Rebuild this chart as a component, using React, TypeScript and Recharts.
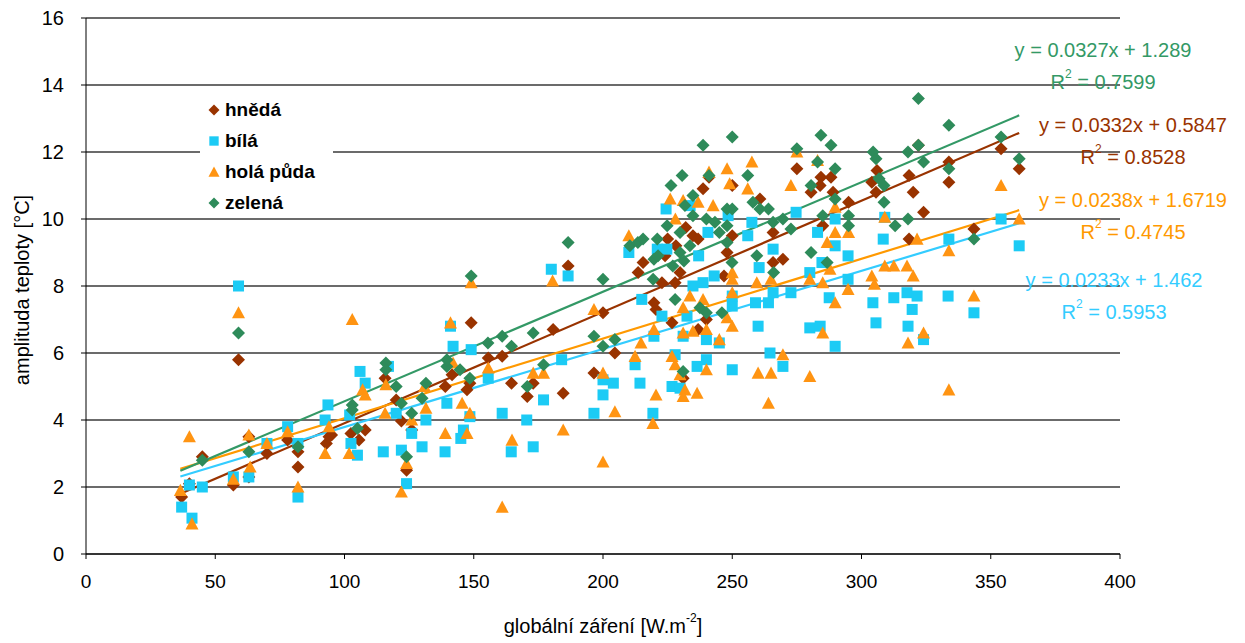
import React from "react";
import {
  ScatterChart,
  Scatter,
  XAxis,
  YAxis,
  CartesianGrid,
  ReferenceLine,
  Legend,
} from "recharts";

// [globální záření, amplituda teploty]
const hneda: [number, number][] = [
  [37, 1.7], [40, 2.1], [45, 2.9], [57, 2.06], [59, 5.8], [63, 3.5], [63, 2.3], [70, 3.0], [78, 3.4], [82, 3.05],
  [82, 2.6], [93, 3.3], [94, 3.5], [95, 3.55], [102.5, 3.6], [105.6, 3.4], [108, 3.7], [115.7, 5.25], [120, 4.6], [122, 3.97],
  [124, 2.5], [126, 3.7], [139, 5.0], [141.6, 5.35], [147.4, 4.9], [148.5, 5.1], [149, 6.9], [155.6, 5.85], [161, 5.9], [164.6, 5.1],
  [170.7, 4.7], [173, 5.1], [180.7, 6.7], [184.6, 4.8], [186.5, 8.6], [196.5, 5.4], [200, 7.2], [204.6, 6.0], [213.6, 8.4], [215.5, 8.7],
  [219.7, 7.5], [220.5, 7.3], [222.8, 8.1], [224, 8.9], [225, 9.4], [226.7, 6.9], [227.9, 8.1], [228.2, 9.2], [229.8, 8.4], [231, 5.25],
  [232, 9.75], [234.8, 9.5], [236.8, 9.4], [236.8, 6.7], [238.7, 10.9], [240, 7.0], [241, 11.25], [246.8, 8.3], [248, 9.0], [250, 9.5],
  [250, 11.0], [260.7, 10.6], [265.8, 9.6], [265.8, 8.7], [269.6, 8.8], [275, 11.5], [280.5, 10.8], [284.3, 11.25], [284, 11.0], [285, 9.8],
  [288.2, 11.25], [289, 10.8], [295, 10.5], [304, 11.1], [306, 11.45], [305.6, 10.8], [318.4, 11.3], [318.4, 9.4], [320, 10.8], [322, 12.2],
  [324, 10.2], [333.8, 11.7], [333.8, 11.1], [343.5, 9.7], [354, 12.1], [361, 11.5],
];

const bila: [number, number][] = [
  [37, 1.4], [40, 2.06], [41, 1.07], [45, 2.0], [57, 2.3], [59, 8.0], [63, 2.3], [70, 3.3], [78, 3.8], [82, 3.3],
  [82, 1.7], [92.5, 4.0], [93.6, 4.45], [102, 4.15], [102.5, 3.3], [105, 2.95], [106, 5.45], [108, 5.1], [115, 3.05], [117, 5.6],
  [120, 4.2], [122, 3.1], [124, 2.1], [126, 3.6], [130, 3.2], [131.5, 4.0], [138.9, 3.05], [139.6, 4.5], [141, 6.8], [142, 6.2],
  [145, 3.45], [146, 3.7], [148.5, 4.1], [149, 6.1], [155.6, 5.25], [161, 4.2], [164.5, 3.05], [170.5, 4.0], [173, 3.2], [177, 4.6],
  [180, 8.5], [184, 5.8], [186.5, 8.3], [196.5, 4.2], [200, 5.2], [200, 4.75], [204, 5.1], [210, 9.0], [212.4, 5.65], [214.3, 5.1],
  [215, 7.6], [219.3, 4.2], [219.7, 6.5], [221, 9.1], [222.8, 7.1], [224.4, 10.3], [224.7, 9.1], [226.7, 5.0], [227.9, 5.95], [229.8, 4.95],
  [231, 6.5], [232.5, 7.1], [233.7, 10.4], [234.8, 8.0], [236.4, 5.6], [237, 8.9], [238.7, 8.1], [240, 5.8], [240, 6.4], [240.6, 9.6],
  [243, 8.3], [245, 6.3], [248.4, 10.1], [250, 7.4], [250, 7.7], [250, 5.5], [256, 9.5], [257.6, 9.9], [259, 7.5], [260, 6.8],
  [260.4, 8.55], [264, 7.5], [264.6, 6.0], [265.8, 9.1], [265.8, 7.8], [269.6, 5.6], [272.7, 7.8], [274.7, 10.2], [280, 8.4], [280, 6.75],
  [283, 9.6], [284, 6.8], [284.7, 8.7], [287.5, 7.65], [289.8, 9.2], [289.8, 10.0], [289.8, 6.2], [294.8, 8.9], [294.8, 8.2], [304.4, 7.5],
  [305.6, 6.9], [308.4, 9.4], [309, 10.05], [312.5, 7.65], [317.6, 7.8], [318, 6.8], [319.6, 7.3], [321.5, 7.7], [324, 6.4], [333.5, 7.7],
  [333.8, 9.4], [343.5, 7.2], [354, 10.0], [361, 9.2],
];

const holaPuda: [number, number][] = [
  [36.5, 1.9], [40, 3.5], [41, 0.9], [57, 2.23], [59, 7.2], [63, 3.55], [63.5, 2.6], [70, 3.3], [78, 3.65], [82, 2.0],
  [92.5, 3.0], [94, 3.8], [101.8, 3.0], [103, 7.0], [107, 4.9], [108, 4.75], [115.7, 4.2], [116, 5.05], [122, 1.85], [124, 2.7],
  [126, 4.0], [131.5, 4.35], [131, 5.0], [139, 3.6], [141, 6.9], [142, 5.7], [145.5, 4.5], [147.4, 3.6], [148.5, 4.2], [149, 8.1],
  [155.6, 5.55], [161, 1.4], [164.8, 3.4], [173, 5.4], [177, 5.4], [180.5, 8.15], [184.6, 3.7], [196.5, 7.3], [200, 5.4], [200, 2.75],
  [204.6, 4.25], [210, 9.5], [212.4, 5.9], [214.7, 6.3], [219.3, 3.9], [219.7, 6.7], [220.5, 4.75], [226, 10.6], [226.7, 5.9], [227.9, 5.65],
  [228, 10.0], [229.8, 5.35], [231, 10.55], [231, 7.35], [231, 6.6], [231.7, 4.9], [231, 4.7], [233.6, 7.7], [234.8, 6.65], [236.4, 4.8],
  [236.8, 10.5], [238.7, 7.6], [240, 5.5], [240, 6.7], [241, 11.4], [242.6, 10.4], [245, 6.4], [248, 11.5], [248, 7.05], [249, 11.05],
  [250, 6.8], [250, 8.4], [250, 8.2], [250, 7.8], [256, 10.9], [257.6, 11.7], [259.5, 8.1], [260, 5.4], [264, 4.5], [265, 8.2],
  [265, 5.4], [269.6, 5.95], [272.7, 11.0], [275, 12.0], [280, 8.2], [280, 5.3], [283, 11.75], [285, 8.1], [285, 6.6], [286.7, 9.3],
  [287.8, 8.5], [289.8, 10.35], [289.8, 9.6], [289.8, 7.5], [294.8, 7.9], [295, 9.6], [304, 8.3], [305, 8.05], [309, 10.05], [309, 8.6],
  [312.5, 8.6], [317.6, 8.6], [318, 6.3], [320, 8.3], [321.5, 9.4], [324, 6.6], [333.8, 9.05], [333.8, 4.9], [343.5, 7.7], [354, 11.0],
  [361, 10.0],
];

const zelena: [number, number][] = [
  [45, 2.8], [59, 6.6], [63, 3.05], [82, 3.2], [103, 4.45], [103, 4.3], [105, 3.75], [116, 5.7], [116, 5.5], [120, 5.0],
  [122, 4.5], [124, 2.9], [126, 4.2], [130, 4.65], [131.5, 5.1], [139.6, 5.6], [139.6, 5.8], [144.7, 5.5], [148.5, 5.25], [149, 8.3],
  [155.5, 6.3], [161, 6.5], [164.6, 6.2], [170.7, 5.0], [173, 6.6], [177, 5.65], [186.5, 9.3], [196.5, 6.5], [200, 8.2], [200, 6.2],
  [204.6, 6.4], [210.4, 9.2], [213.5, 9.3], [215.5, 9.4], [219.4, 8.2], [219.7, 8.8], [221, 9.4], [221.3, 8.9], [224.8, 9.8], [226.3, 11.0],
  [227, 8.6], [227.9, 7.6], [229.8, 9.6], [229.8, 9.0], [230.6, 11.3], [231.3, 8.75], [231, 5.45], [231.7, 10.4], [233.6, 9.2], [234.8, 10.7],
  [234.8, 10.1], [237.5, 7.35], [238.7, 12.2], [240, 7.2], [240, 10.0], [241, 11.3], [243.3, 9.9], [245, 9.6], [246, 7.2], [248, 10.3],
  [248, 9.8], [248, 9.3], [249.9, 8.7], [250, 12.45], [250, 10.3], [256, 11.3], [258, 10.5], [259.5, 8.9], [260.7, 10.3], [264, 10.3],
  [265.8, 9.9], [266, 8.4], [269.6, 10.0], [272.7, 9.7], [275, 12.1], [280.5, 11.0], [280.5, 9.0], [283, 11.7], [284.3, 12.5], [285, 10.1],
  [286.7, 8.7], [288.2, 12.2], [289.8, 11.5], [289.8, 10.6], [295, 10.1], [295, 9.8], [304.5, 12.0], [305.6, 11.8], [306.8, 11.2], [308.7, 11.0],
  [308.7, 10.5], [313, 9.8], [318, 12.0], [318, 10.0], [322, 12.2], [322, 13.6], [324, 11.7], [333.8, 12.8], [333.8, 11.5], [343.5, 9.4],
  [354, 12.45], [361, 11.8],
];

// linear trend coefficients [slope, intercept, R²]
const trendHneda = [0.0332, 0.5847, 0.8528];
const trendBila = [0.0233, 1.462, 0.5953];
const trendHola = [0.0238, 1.6719, 0.4745];
const trendZelena = [0.0327, 1.289, 0.7599];

const xTicks = [0, 50, 100, 150, 200, 250, 300, 350, 400];
const yTicks = [0, 2, 4, 6, 8, 10, 12, 14, 16];

const FONT = '"Liberation Sans", Arial, sans-serif';

const series = [
  { name: "hnědá", pts: hneda, trend: trendHneda, color: "#993300", line: "#993300", shape: "diamond", eq: [1133, 125] },
  { name: "bílá", pts: bila, trend: trendBila, color: "#1ccbf5", line: "#33ccff", shape: "square", eq: [1114, 280] },
  { name: "holá půda", pts: holaPuda, trend: trendHola, color: "#ff9412", line: "#ff9900", shape: "triangle", eq: [1133, 200] },
  { name: "zelená", pts: zelena, trend: trendZelena, color: "#2e8b5a", line: "#339966", shape: "diamond", eq: [1103, 50] },
];

function marker(kind: string, color: string, cx: number, cy: number, s = 1) {
  if (kind === "square") {
    const h = 5.5 * s;
    return <rect x={cx - h} y={cy - h} width={2 * h} height={2 * h} fill={color} />;
  }
  if (kind === "triangle") {
    const h = 6.5 * s;
    return <polygon points={`${cx},${cy - h} ${cx + h},${cy + h * 0.85} ${cx - h},${cy + h * 0.85}`} fill={color} />;
  }
  const d = 6.5 * s;
  return <polygon points={`${cx},${cy - d} ${cx + d},${cy} ${cx},${cy + d} ${cx - d},${cy}`} fill={color} />;
}

const fmt = (slope: number, icpt: number) => `y = ${slope}x + ${icpt}`;

export default function App() {
  const xs = series.flatMap((s) => s.pts.map((p) => p[0]));
  const xMin = Math.min(...xs);
  const xMax = Math.max(...xs);

  return (
    <div style={{ position: "absolute", left: 0, top: 0, width: 1245, height: 643, background: "#fff", fontFamily: FONT }}>
      <ScatterChart width={1245} height={643} margin={{ top: 18, right: 125, left: 0, bottom: 0 }}>
        <CartesianGrid vertical={false} stroke="#3a3a3a" strokeWidth={1.5} />
        <XAxis
          type="number"
          dataKey="x"
          domain={[0, 400]}
          ticks={xTicks}
          height={89}
          tickSize={5}
          tickMargin={16}
          stroke="#000"
          tick={{ fill: "#000", fontSize: 19, fontFamily: FONT }}
        />
        <YAxis
          type="number"
          dataKey="y"
          domain={[0, 16]}
          ticks={yTicks}
          width={86}
          tickSize={5}
          tickMargin={17}
          stroke="#000"
          tick={{ fill: "#000", fontSize: 20, fontFamily: FONT }}
        />
        <Legend
          layout="vertical"
          align="center"
          verticalAlign="middle"
          wrapperStyle={{ left: 200, top: 90, width: 133, height: 125, background: "#fff" }}
          content={() => (
            <div style={{ paddingTop: 4, fontFamily: FONT }}>
              {series.map((s) => (
                <div key={s.name} style={{ display: "flex", alignItems: "center", height: 31, fontWeight: "bold", fontSize: 19, color: "#000" }}>
                  <svg width={22} height={16} style={{ marginLeft: 3 }}>
                    {marker(s.shape, s.color, 11, 8, 0.85)}
                  </svg>
                  <span>{s.name}</span>
                </div>
              ))}
            </div>
          )}
        />
        {series.map((s) => (
          <Scatter
            key={s.name}
            name={s.name}
            data={s.pts.map(([x, y]) => ({ x, y }))}
            isAnimationActive={false}
            shape={(p: any) => marker(s.shape, s.color, p.cx, p.cy)}
          />
        ))}
        {series.map((s) => (
          <ReferenceLine
            key={"t" + s.name}
            segment={[
              { x: xMin, y: s.trend[0] * xMin + s.trend[1] },
              { x: xMax, y: s.trend[0] * xMax + s.trend[1] },
            ]}
            stroke={s.line}
            strokeWidth={2.2}
          />
        ))}
        {series.map((s) => (
          <g key={"e" + s.name} fill={s.line} fontSize={20} fontFamily={FONT} textAnchor="middle">
            <text x={s.eq[0]} y={s.eq[1]} dominantBaseline="central">
              {fmt(s.trend[0], s.trend[1])}
            </text>
            <text x={s.eq[0]} y={s.eq[1] + 32} dominantBaseline="central">
              R<tspan dy={-8} fontSize={12}>2</tspan>
              <tspan dy={8}> = {s.trend[2]}</tspan>
            </text>
          </g>
        ))}
        <text x={22} y={290} transform="rotate(-90 22 290)" textAnchor="middle" dominantBaseline="central" fontSize={20} fontFamily={FONT} fill="#000">
          amplituda teploty [°C]
        </text>
        <text x={603} y={626} textAnchor="middle" dominantBaseline="central" fontSize={20} fontFamily={FONT} fill="#000">
          globální záření [W.m<tspan dy={-8} fontSize={12}>-2</tspan>
          <tspan dy={8}>]</tspan>
        </text>
      </ScatterChart>
    </div>
  );
}
